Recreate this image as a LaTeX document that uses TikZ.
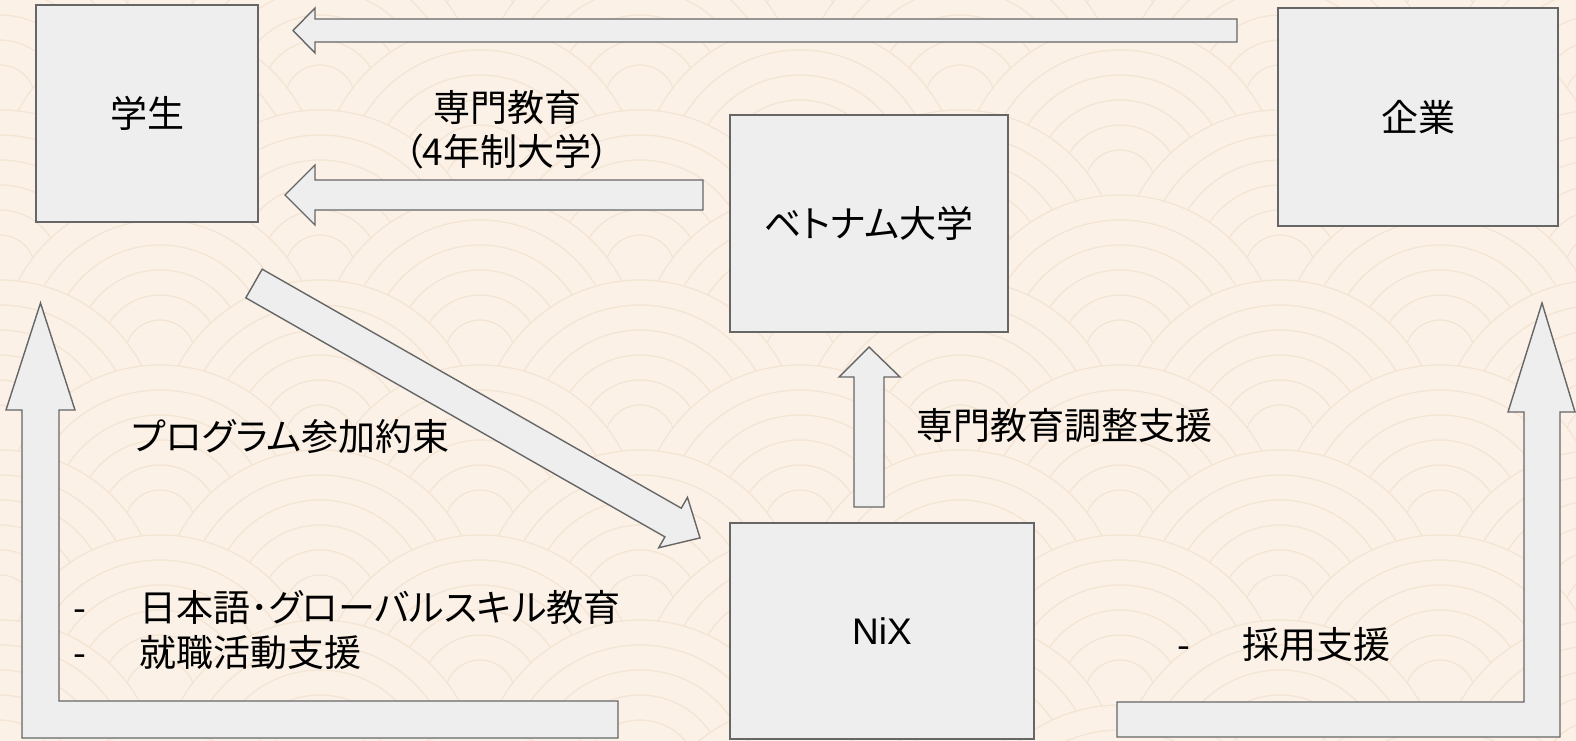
\documentclass[tikz,border=0pt]{standalone}
\usepackage{fontspec}
\setmainfont{Liberation Sans}
\newfontfamily\cjk[RawFeature=+palt]{Noto Sans CJK JP}
\definecolor{bg}{HTML}{FBF1E7}
\definecolor{wave}{HTML}{F4E4D2}
\definecolor{boxfill}{HTML}{EEEEEE}
\definecolor{boxline}{HTML}{666666}
\begin{document}
\begin{tikzpicture}[x=1pt,y=-1pt,
  box/.style={draw=boxline, fill=boxfill, line width=1.5pt, inner sep=0pt,
    font=\cjk\fontsize{37}{44}\selectfont},
  barrow/.style={draw=boxline, fill=boxfill, line width=1.4pt, line join=miter},
  lbl/.style={font=\cjk\fontsize{37}{44}\selectfont, text=black, inner sep=0pt}]
\useasboundingbox (0,0) rectangle (1576,741);
\fill[bg] (0,0) rectangle (1576,741);
\begin{scope}
\clip (0,0) rectangle (1576,741);
\foreach \r in {0,...,11}{
  \pgfmathsetmacro{\yy}{-70+\r*85}
  \pgfmathsetmacro{\off}{mod(\r,2)*160}
  \foreach \c in {-1,...,5}{
    \pgfmathsetmacro{\xx}{\off+\c*320}
    \fill[bg] (\xx,\yy) circle[radius=160pt];
    \foreach \k in {0,...,5}{
      \draw[wave, line width=1.2pt] (\xx,\yy) circle[radius={(160-\k*25)*1pt}];
    }
  }
}
\end{scope}

% boxes
\node[box, minimum width=222pt, minimum height=217pt] (st) at (147,113.5) {学生};
\node[box, minimum width=278pt, minimum height=217pt] (vu) at (869,223.5) {ベトナム大学};
\node[box, minimum width=280pt, minimum height=218pt] (co) at (1418,117) {企業};
\node[box, minimum width=304pt, minimum height=216pt, font=\fontsize{37}{44}\selectfont] (nx) at (882,631) {NiX};

% block arrows
\draw[barrow] (293,30.5) -- (315,8) -- (315,19) -- (1237,19) -- (1237,42) -- (315,42) -- (315,53) -- cycle;
\draw[barrow] (285,195) -- (315,165) -- (315,180) -- (703,180) -- (703,210) -- (315,210) -- (315,225) -- cycle;
\draw[barrow] (869,347) -- (900,377) -- (884,377) -- (884,507) -- (854,507) -- (854,377) -- (839,377) -- cycle;
\draw[barrow] (40.5,303) -- (75,410) -- (59,410) -- (59,701) -- (618,701) -- (618,738) -- (22,738) -- (22,410) -- (6,410) -- cycle;
\draw[barrow] (1542,303) -- (1575,412) -- (1560,412) -- (1560,737) -- (1117,737) -- (1117,702) -- (1524,702) -- (1524,412) -- (1508,412) -- cycle;
\begin{scope}[shift={(254,283.5)}, rotate=-29.7]
\draw[barrow] (0,-16.5) -- (482.5,-16.5) -- (482.5,-29) -- (513.5,0) -- (482.5,29) -- (482.5,16.5) -- (0,16.5) -- cycle;
\end{scope}

% labels
\node[lbl, align=center] (l1) at (507,130) {専門教育\\（4年制大学）};
\node[lbl, anchor=west] (l2) at (916,426) {専門教育調整支援};
\node[lbl, anchor=west] (l3) at (132,437) {プログラム参加約束};
\node[lbl, anchor=west] (l4) at (73,607) {\makebox[66pt][l]{-}日本語･グローバルスキル教育};
\node[lbl, anchor=west] (l5) at (73,653) {\makebox[66pt][l]{-}就職活動支援};
\node[lbl, anchor=west] (l6) at (1177,645) {\makebox[65pt][l]{-}採用支援};
\end{tikzpicture}
\end{document}
